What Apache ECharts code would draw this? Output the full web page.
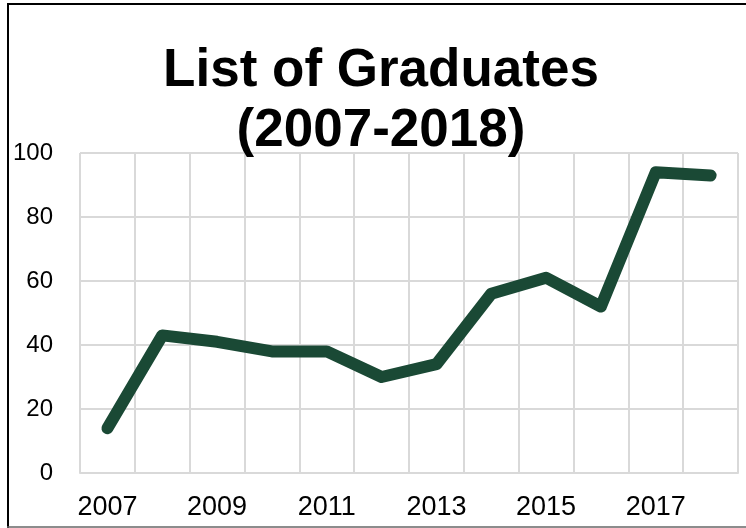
<!DOCTYPE html>
<html>
<head>
<meta charset="utf-8">
<script src="https://cdn.jsdelivr.net/npm/echarts@6/dist/echarts.min.js"></script>
<style>
html,body{margin:0;padding:0;background:#fff;}
#chart{width:746px;height:528px;}
</style>
</head>
<body>
<div id="chart"></div>
<script>
const titleText = 'List of Graduates\n(2007-2018)';
const years = ['2007','2008','2009','2010','2011','2012','2013','2014','2015','2016','2017','2018'];
const graduates = [14, 43, 41, 38, 38, 30, 34, 56, 61, 52, 94, 93];
const yTicks = [0, 20, 40, 60, 80, 100];

const chart = echarts.init(document.getElementById('chart'), null, {renderer: 'canvas'});
chart.setOption({
  backgroundColor: '#ffffff',
  animation: false,
  title: {
    text: titleText,
    left: 381,
    top: 41,
    textAlign: 'center',
    padding: 0,
    textStyle: {
      fontFamily: '"Liberation Sans", Arial, sans-serif',
      fontWeight: 'bold',
      fontSize: 53,
      lineHeight: 60,
      color: '#000000'
    }
  },
  grid: {left: 80, right: 8, top: 153, bottom: 55, containLabel: false},
  xAxis: {
    type: 'category',
    data: years,
    boundaryGap: true,
    axisLine: {show: true, lineStyle: {color: '#d9d9d9', width: 2}},
    axisTick: {show: false},
    axisLabel: {
      interval: 1,
      margin: 21,
      fontFamily: '"Liberation Sans", Arial, sans-serif',
      fontSize: 27,
      color: '#000000'
    },
    splitLine: {show: true, interval: 0, lineStyle: {color: '#d9d9d9', width: 2}}
  },
  yAxis: {
    type: 'value',
    min: yTicks[0],
    max: yTicks[yTicks.length - 1],
    interval: 20,
    axisLine: {show: false},
    axisTick: {show: false},
    axisLabel: {
      margin: 27,
      fontFamily: '"Liberation Sans", Arial, sans-serif',
      fontSize: 24,
      color: '#000000'
    },
    splitLine: {show: true, lineStyle: {color: '#d9d9d9', width: 2}}
  },
  series: [{
    type: 'line',
    data: graduates,
    symbol: 'none',
    lineStyle: {color: '#1a4935', width: 12, cap: 'round', join: 'round'}
  }],
  graphic: [
    {type: 'line', shape: {x1: 7, y1: 4, x2: 746, y2: 4}, style: {stroke: '#000', lineWidth: 2}, silent: true},
    {type: 'line', shape: {x1: 8, y1: 4, x2: 8, y2: 528}, style: {stroke: '#000', lineWidth: 2}, silent: true},
    {type: 'line', shape: {x1: 7, y1: 527, x2: 746, y2: 527}, style: {stroke: '#666', lineWidth: 1.5}, silent: true}
  ]
});
</script>
</body>
</html>
